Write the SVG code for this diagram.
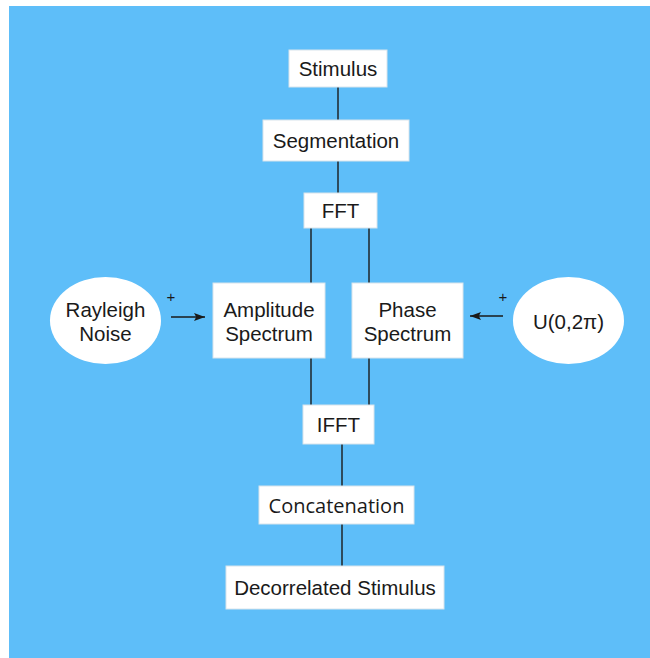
<svg xmlns="http://www.w3.org/2000/svg" width="650" height="658" viewBox="0 0 650 658">
<style>
.box{fill:#ffffff;stroke:#d8e4ec;stroke-width:1}
.t{font-family:"Liberation Sans",Arial,sans-serif;font-size:20.5px;fill:#1a1a1a;text-anchor:middle;dominant-baseline:central}
.plus{font-family:"Liberation Sans",Arial,sans-serif;font-size:15px;fill:#1a1a1a;text-anchor:middle}
.ln{stroke:#1a1a1a;stroke-width:1.4;fill:none}
</style>
<defs>
<marker id="ah" viewBox="0 0 10 10" refX="10" refY="5" markerWidth="11" markerHeight="8" markerUnits="userSpaceOnUse" orient="auto" preserveAspectRatio="none">
<path d="M0,0 L10,5 L0,10 L2,5 z" fill="#1a1a1a"/>
</marker>
</defs>
<rect x="0" y="0" width="650" height="658" fill="#ffffff"/>
<rect x="9" y="6" width="641" height="652" fill="#5EBEF9"/>
<g id="connectors">
<line class="ln" x1="338" y1="87" x2="338" y2="120"/>
<line class="ln" x1="338" y1="161" x2="338" y2="193"/>
<line class="ln" x1="311" y1="228" x2="311" y2="283"/>
<line class="ln" x1="369" y1="228" x2="369" y2="283"/>
<line class="ln" x1="311" y1="358" x2="311" y2="405"/>
<line class="ln" x1="369" y1="358" x2="369" y2="405"/>
<line class="ln" x1="342" y1="444" x2="342" y2="486"/>
<line class="ln" x1="342" y1="524" x2="342" y2="566"/>
<line class="ln" x1="171" y1="317" x2="205" y2="317" marker-end="url(#ah)"/>
<line class="ln" x1="503" y1="316" x2="470" y2="316" marker-end="url(#ah)"/>
<text class="plus" x="171" y="302">+</text>
<text class="plus" x="503" y="302">+</text>
</g>
<g id="stimulus"><rect class="box" x="289" y="50" width="98" height="37"/><text class="t" x="338" y="68.5">Stimulus</text></g>
<g id="segmentation"><rect class="box" x="263" y="120" width="146" height="41"/><text class="t" x="336" y="140.5">Segmentation</text></g>
<g id="fft"><rect class="box" x="304" y="193" width="73" height="35"/><text class="t" x="340.5" y="210.5">FFT</text></g>
<g id="rayleigh"><ellipse fill="#ffffff" cx="105.5" cy="320.5" rx="55.5" ry="43.5"/><text class="t" x="105.5" y="309">Rayleigh</text><text class="t" x="105.5" y="333">Noise</text></g>
<g id="amplitude"><rect class="box" x="213" y="283" width="112" height="75"/><text class="t" x="269" y="309">Amplitude</text><text class="t" x="269" y="333">Spectrum</text></g>
<g id="phase"><rect class="box" x="352" y="283" width="111" height="75"/><text class="t" x="407.5" y="309">Phase</text><text class="t" x="407.5" y="333">Spectrum</text></g>
<g id="uniform"><ellipse fill="#ffffff" cx="568.5" cy="320.5" rx="55.5" ry="43.5"/><text class="t" x="568.5" y="321">U(0,2π)</text></g>
<g id="ifft"><rect class="box" x="303" y="405" width="71" height="39"/><text class="t" x="338.5" y="424.5">IFFT</text></g>
<g id="concatenation"><rect class="box" x="259" y="486" width="155" height="38"/><text class="t" x="336.5" y="505" style="font-family:'Open Sans','Liberation Sans',sans-serif;font-size:20px">Concatenation</text></g>
<g id="decorrelated"><rect class="box" x="226" y="566" width="218" height="43"/><text class="t" x="335" y="587.5">Decorrelated Stimulus</text></g>
</svg>
